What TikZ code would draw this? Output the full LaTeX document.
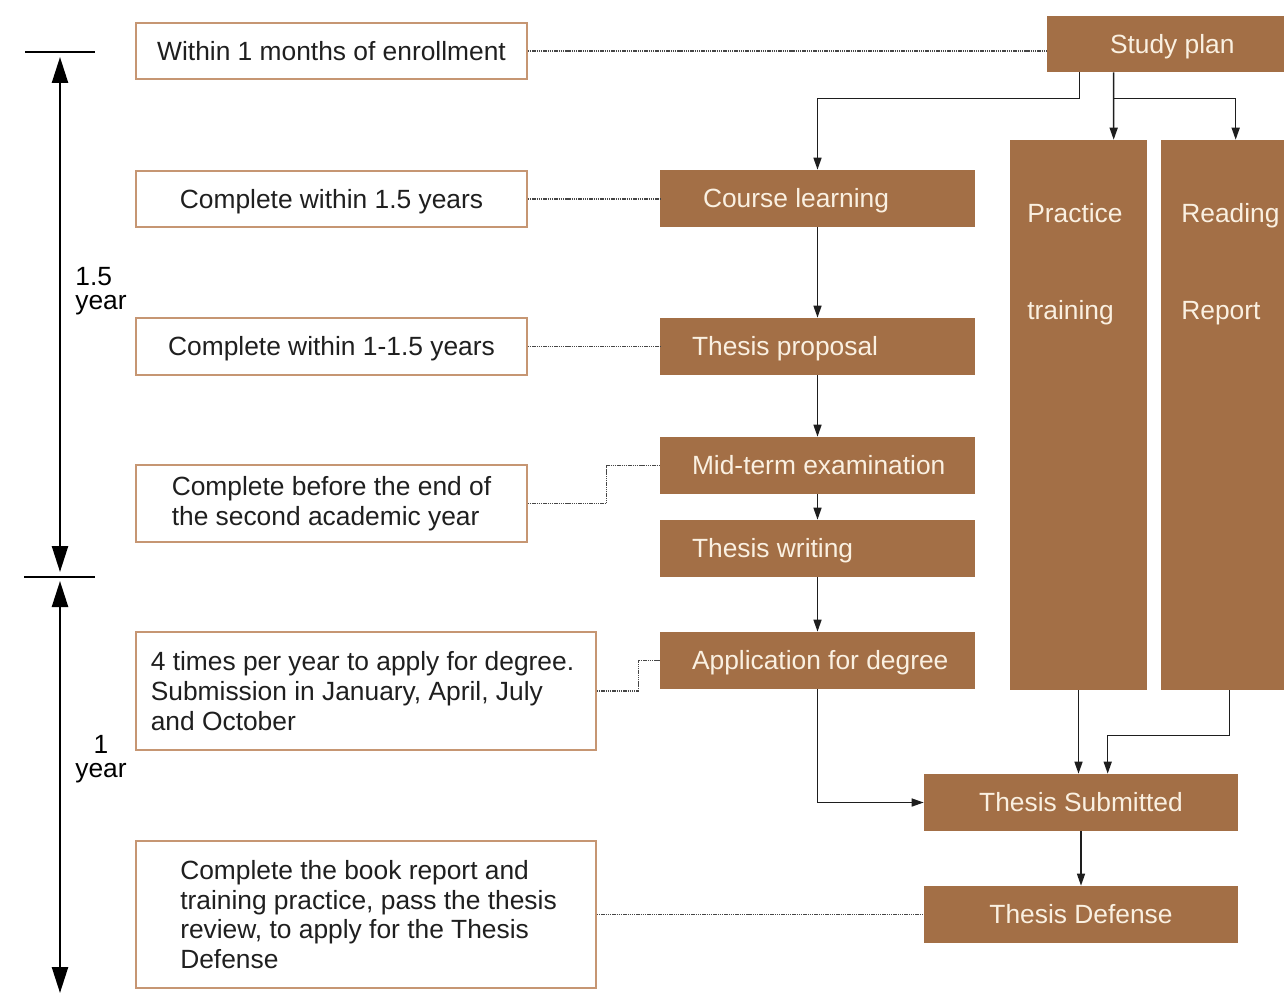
\documentclass[tikz,border=0pt]{standalone}
\usepackage{fontspec}
\setmainfont{Liberation Sans}
\usetikzlibrary{arrows.meta,calc}
\definecolor{boxbrown}{RGB}{163,111,70}
\definecolor{boxtext}{RGB}{250,240,225}
\definecolor{edgetan}{RGB}{198,150,115}
\definecolor{linegray}{RGB}{30,30,30}
\definecolor{dotgray}{RGB}{70,70,70}
\newcommand\lefttxt[3]{\makebox[#2][l]{\hspace*{#1}#3}}
\begin{document}
\begin{tikzpicture}[x=0.02cm,y=-0.02cm,
  font=\fontsize{15pt}{17pt}\selectfont,
  bbox/.style={fill=boxbrown, draw=none, inner sep=0pt, text=boxtext, minimum height=1.14cm},
  onel/.style={text height=10.7pt, text depth=0pt},
  wbox/.style={draw=edgetan, line width=0.9pt, fill=white, inner sep=0pt, text=black!88},
  conn/.style={draw=linegray, line width=0.85pt, -{Triangle[length=0.24cm,width=0.16cm]}},
  dotl/.style={draw=dotgray, line width=0.65pt, dash pattern=on 0.8pt off 0.45pt},
  tline/.style={draw=black, line width=1.4pt},
  tarrow/.style={tline, {Triangle[length=0.52cm,width=0.32cm]}-{Triangle[length=0.52cm,width=0.32cm]}},
  btext/.style={inner sep=0pt, text=boxtext},
]
\useasboundingbox (0,0) rectangle (1284,994);

% brown process boxes
\node[bbox,onel,minimum width=4.74cm,minimum height=1.12cm] (sp) at (1165.5,44) {\lefttxt{1.26cm}{4.74cm}{Study plan}};
\node[bbox,onel,minimum width=6.3cm] (cl) at (817.5,198.5) {\lefttxt{0.86cm}{6.3cm}{Course learning}};
\node[bbox,onel,minimum width=6.3cm] (tp) at (817.5,346.5) {\lefttxt{0.64cm}{6.3cm}{Thesis proposal}};
\node[bbox,onel,minimum width=6.3cm] (mt) at (817.5,465.5) {\lefttxt{0.64cm}{6.3cm}{Mid-term examination}};
\node[bbox,onel,minimum width=6.3cm] (tw) at (817.5,548.5) {\lefttxt{0.64cm}{6.3cm}{Thesis writing}};
\node[bbox,onel,minimum width=6.3cm] (ad) at (817.5,660.5) {\lefttxt{0.64cm}{6.3cm}{Application for degree}};
\node[bbox,minimum width=2.74cm,minimum height=11cm] (pr) at (1078.5,415) {};
\node[bbox,minimum width=2.46cm,minimum height=11cm] (rr) at (1222.5,415) {};
\node[btext,anchor=base west] (pr1) at (1027,222) {Practice};
\node[btext,anchor=base west] (pr2) at (1027,319) {training};
\node[btext,anchor=base west] (rr1) at (1181,222) {Reading};
\node[btext,anchor=base west] (rr2) at (1181,319) {Report};
\node[bbox,onel,minimum width=6.28cm] (ts) at (1081,802.5) {Thesis Submitted};
\node[bbox,onel,minimum width=6.28cm] (td) at (1081,914.5) {Thesis Defense};

% note boxes
\node[wbox,onel,minimum width=7.82cm,minimum height=1.12cm] (w1) at (331.5,51) {Within 1 months of enrollment};
\node[wbox,onel,minimum width=7.82cm,minimum height=1.12cm] (c15) at (331.5,199) {Complete within 1.5 years};
\node[wbox,onel,minimum width=7.82cm,minimum height=1.14cm] (c1) at (331.5,346.5) {Complete within 1-1.5 years};
\node[wbox,align=left,minimum width=7.82cm,minimum height=1.54cm] (be) at (331.5,503.5) {Complete before the end of\\the second academic year};
\node[wbox,align=left,minimum width=9.2cm,minimum height=2.36cm] (ft) at (366,691) {\hspace*{-0.14cm}4 times per year to apply for degree.\\\hspace*{-0.14cm}Submission in January, April, July\\\hspace*{-0.14cm}and October};
\node[wbox,align=left,minimum width=9.2cm,minimum height=2.94cm] (bk) at (366,914.5) {\hspace*{0.1cm}Complete the book report and\\\hspace*{0.1cm}training practice, pass the thesis\\\hspace*{0.1cm}review, to apply for the Thesis\\\hspace*{0.1cm}Defense};

% timeline
\coordinate (k1a) at (25,52); \coordinate (k1b) at (95,52);
\coordinate (k2a) at (24,577); \coordinate (k2b) at (95,577);
\coordinate (a1s) at (60,57); \coordinate (a1e) at (60,572);
\coordinate (a2s) at (60,581); \coordinate (a2e) at (60,993);
\draw[tline] (k1a) -- (k1b);
\draw[tline] (k2a) -- (k2b);
\draw[tarrow] (a1s) -- (a1e);
\draw[tarrow] (a2s) -- (a2e);
\node[inner sep=0pt,align=left,font=\fontsize{15pt}{13.6pt}\selectfont] (lab1) at (101,291) {1.5\\year};
\node[inner sep=0pt,align=center,font=\fontsize{15pt}{13.6pt}\selectfont] (lab2) at (101,759) {1\\year};

% connectors
\draw[conn] ($(sp.south west)+(33,0)$) -- ++(0,26) -| (cl.north);
\draw[conn] ($(sp.south west)+(67,0)$) -- ($(pr.north west)+(104,0)$);
\draw[conn] ($(sp.south west)+(67,26)$) -| ($(rr.north west)+(75,0)$);
\draw[conn] (cl.south) -- (tp.north);
\draw[conn] (tp.south) -- (mt.north);
\draw[conn] (mt.south) -- (tw.north);
\draw[conn] (tw.south) -- (ad.north);
\draw[conn] (ad.south) |- (ts.west);
\draw[conn] (pr.south) -- (pr.south |- ts.north);
\draw[conn] ($(rr.south west)+(69,0)$) -- ++(0,45) -| ($(ts.north west)+(184,0)$);
\draw[conn] (ts.south) -- (td.north);

% dotted links
\draw[dotl] (w1.east) -- (w1.east -| sp.west);
\draw[dotl] (c15.east) -- (c15.east -| cl.west);
\draw[dotl] (c1.east) -- (c1.east -| tp.west);
\draw[dotl] (be.east) -- ++(79,0) |- (mt.west);
\draw[dotl] (ft.east) -- ++(42,0) |- (ad.west);
\draw[dotl] (bk.east) -- (bk.east -| td.west);
\end{tikzpicture}
\end{document}
